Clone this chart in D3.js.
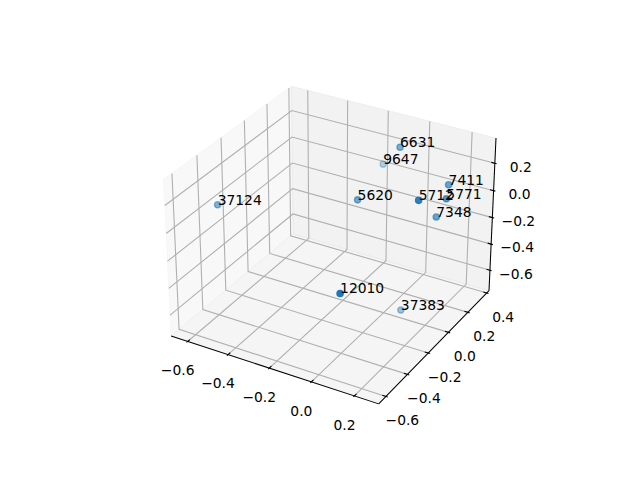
<!DOCTYPE html>
<html><head><meta charset="utf-8">
<script src="https://cdn.jsdelivr.net/npm/d3@7"></script>
<style>
body{margin:0;background:#fff}
svg{display:block}
text{font-family:"DejaVu Sans",sans-serif}
</style>
</head><body>
<svg id="chart" width="640" height="480"></svg>
<script>
// ---- data ----
const labels  = ["6631","9647","7411","5620","5712","5771","7348","37124","12010","37383"];
const xValues = [-0.0265,-0.1967, 0.2236,-0.1073, 0.2534, 0.2658, 0.2127,-0.6378, 0.1070, 0.0790];
const yValues = [ 0.1890, 0.3747, 0.1458,-0.0464,-0.2098, 0.0339, 0.0554,-0.3201,-0.6162, 0.0082];
const zValues = [ 0.3300, 0.0200, 0.1897, 0.0696, 0.3276, 0.1810, 0.0135,-0.0080,-0.1027,-0.7068];
const xTicks = [-0.6,-0.4,-0.2,0.0,0.2];
const yTicks = [-0.6,-0.4,-0.2,0.0,0.2,0.4];
const zTicks = [-0.6,-0.4,-0.2,0.0,0.2];

// ---- view ----
const elev = 30, azim = -60, dist = 10;
const svg = d3.select("#chart");

function padded(v){ const [a,b]=d3.extent(v); const p=(b-a)*0.05; return [a-p,b+p]; }
const xDom = padded(xValues), yDom = padded(yValues), zDom = padded(zValues);

const k = 1.8294640721620434*25/24/Math.sqrt(41);
const B = [4*k,4*k,3*k];
const xs = d3.scaleLinear().domain(xDom).range([0,B[0]]);
const ys = d3.scaleLinear().domain(yDom).range([0,B[1]]);
const zs = d3.scaleLinear().domain(zDom).range([0,B[2]]);

const sub=(a,b)=>a.map((x,i)=>x-b[i]);
const dot=(a,b)=>a[0]*b[0]+a[1]*b[1]+a[2]*b[2];
const cross=(a,b)=>[a[1]*b[2]-a[2]*b[1],a[2]*b[0]-a[0]*b[2],a[0]*b[1]-a[1]*b[0]];
const norm=a=>{const n=Math.sqrt(dot(a,a));return a.map(x=>x/n);};

const er=elev*Math.PI/180, ar=azim*Math.PI/180;
const ps=[Math.cos(er)*Math.cos(ar),Math.cos(er)*Math.sin(ar),Math.sin(er)];
const R=B.map(b=>b/2);
const eye=R.map((r,i)=>r+dist*ps[i]);
const W=norm(sub(eye,R));
const U=norm(cross([0,0,1],W));
const V=cross(W,U);

// 2D axes box (square, centred in the default subplot area)
const px = d3.scaleLinear().domain([-0.095,0.09]).range([143.2,512.8]);
const py = d3.scaleLinear().domain([-0.095,0.09]).range([427.2,57.6]);

function proj(x,y,z){
  const Q=sub([xs(x),ys(y),zs(z)],eye);
  const X=dot(U,Q), Y=dot(V,Q), Z=dot(W,Q);
  return [px(X/-Z), py(Y/-Z), 10/Z];
}
const line2=pts=>pts.map(p=>{const q=proj(...p);return q[0].toFixed(2)+","+q[1].toFixed(2);}).join(" ");

const [x0,x1]=xDom,[y0,y1]=yDom,[z0,z1]=zDom;

// ---- panes ----
const panes=[
  {pts:[[x0,y0,z0],[x0,y1,z0],[x0,y1,z1],[x0,y0,z1]], c:"rgb(242,242,242)"},
  {pts:[[x0,y1,z0],[x1,y1,z0],[x1,y1,z1],[x0,y1,z1]], c:"rgb(230,230,230)"},
  {pts:[[x0,y0,z0],[x1,y0,z0],[x1,y1,z0],[x0,y1,z0]], c:"rgb(236,236,236)"}
];
svg.append("g").selectAll("polygon").data(panes).join("polygon")
  .attr("points",d=>line2(d.pts))
  .attr("fill",d=>d.c).attr("fill-opacity",0.5)
  .attr("stroke",d=>d.c).attr("stroke-opacity",0.5).attr("stroke-width",1);

// ---- grid ----
const grid=[];
xTicks.forEach(t=>grid.push([[t,y0,z0],[t,y1,z0],[t,y1,z1]]));
yTicks.forEach(t=>grid.push([[x1,t,z0],[x0,t,z0],[x0,t,z1]]));
zTicks.forEach(t=>grid.push([[x0,y0,t],[x0,y1,t],[x1,y1,t]]));
svg.append("g").selectAll("polyline").data(grid).join("polyline")
  .attr("points",d=>line2(d)).attr("fill","none")
  .attr("stroke","#b0b0b0").attr("stroke-width",1.1);

// ---- axis lines ----
const axes=[
  [[x0,y0,z0],[x1,y0,z0]],
  [[x1,y0,z0],[x1,y1,z0]],
  [[x1,y1,z0],[x1,y1,z1]]
];
svg.append("g").selectAll("polyline").data(axes).join("polyline")
  .attr("points",d=>line2(d)).attr("fill","none")
  .attr("stroke","#000").attr("stroke-width",1.04);

// ---- ticks & labels ----
const dY=(y1-y0)/12, dX=(x1-x0)/12;
const tickLines=[], tickLabels=[];
const fmt=v=>d3.format(".1f")(v).replace("-","\u2212");
xTicks.forEach(t=>{
  tickLines.push([[t,y0-0.1*dY,z0],[t,y0+0.2*dY,z0]]);
  const p=proj(t,y0,z0); tickLabels.push({x:p[0]-10,y:p[1]+28.7,s:fmt(t)});
});
yTicks.forEach(t=>{
  tickLines.push([[x1+0.1*dX,t,z0],[x1-0.2*dX,t,z0]]);
  const p=proj(x1,t,z0); tickLabels.push({x:p[0]+16.4,y:p[1]+23.6,s:fmt(t)});
});
zTicks.forEach(t=>{
  tickLines.push([[x1+0.1*dX,y1,t],[x1-0.2*dX,y1,t]]);
  const p=proj(x1,y1,t); tickLabels.push({x:p[0]+26,y:p[1]+3.3,s:fmt(t)});
});
svg.append("g").selectAll("polyline").data(tickLines).join("polyline")
  .attr("points",d=>line2(d)).attr("fill","none")
  .attr("stroke","#000").attr("stroke-width",1.1);
svg.append("g").selectAll("text").data(tickLabels).join("text")
  .attr("x",d=>d.x).attr("y",d=>d.y+5.06)
  .attr("text-anchor","middle").attr("font-size","13.89px").attr("fill","#000")
  .text(d=>d.s);

// ---- scatter ----
const pts=labels.map((l,i)=>{const p=proj(xValues[i],yValues[i],zValues[i]);return {l,sx:p[0],sy:p[1],tz:p[2]};});
const tzExt=d3.extent(pts,d=>d.tz);
const shade=d3.scaleLinear().domain(tzExt).range([1,0.3]);
const order=pts.slice().sort((a,b)=>b.tz-a.tz);
svg.append("g").selectAll("circle").data(order).join("circle")
  .attr("cx",d=>d.sx).attr("cy",d=>d.sy).attr("r",3.1)
  .attr("fill","#1f77b4").attr("fill-opacity",d=>shade(d.tz))
  .attr("stroke","#1f77b4").attr("stroke-opacity",d=>shade(d.tz)).attr("stroke-width",1.39);
svg.append("g").selectAll("text").data(pts).join("text")
  .attr("x",d=>d.sx).attr("y",d=>d.sy)
  .attr("font-size","13.89px").attr("fill","#000")
  .text(d=>d.l);
</script>
</body></html>
